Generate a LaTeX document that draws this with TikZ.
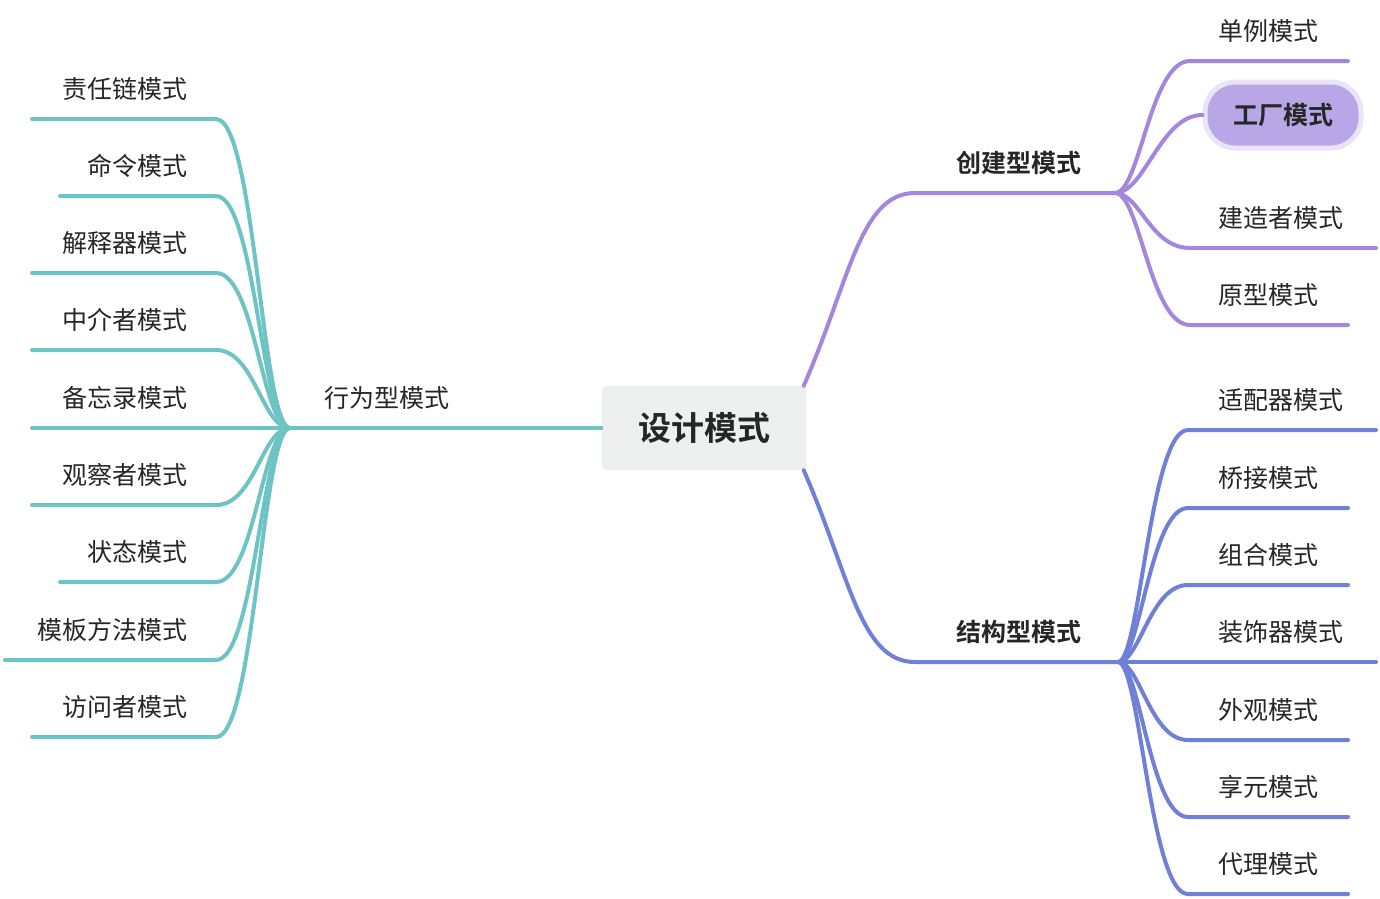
\documentclass[tikz,border=0pt]{standalone}
\usepackage{fontspec}
\newfontfamily\cjk{Noto Sans CJK SC}
\newfontfamily\cjkb{Noto Sans CJK SC Bold}
\begin{document}
\begin{tikzpicture}[x=1pt,y=-1pt,
  lf/.style={font=\cjk\fontsize{25}{25}\selectfont, text=black!85, inner sep=0pt},
  mid/.style={font=\cjkb\fontsize{25}{25}\selectfont, text=black!85, inner sep=0pt},
  br/.style={line width=4pt, line cap=round}]
\definecolor{teal}{HTML}{6EC4C4}
\definecolor{purp}{HTML}{A487DD}
\definecolor{blu}{HTML}{6F80D6}
\useasboundingbox (0,0) rectangle (1380,898);
\node[fill={rgb,255:red,238;green,240;blue,240}, rounded corners=5pt, minimum width=205pt, minimum height=84pt, font=\cjkb\fontsize{33}{33}\selectfont, text=black!85] (root) at (704,428) {设计模式};
% left
\coordinate (lh) at (290,428);
\draw[br,teal] (root.west) -- (lh);
\node[lf] (b) at (387,398) {行为型模式};
\foreach \y/\t/\xs [count=\i] in {119/责任链模式/32, 196/命令模式/60, 273/解释器模式/32, 350/中介者模式/32, 428/备忘录模式/32, 505/观察者模式/32, 582/状态模式/60, 660/模板方法模式/5, 737/访问者模式/32}{
  \coordinate (le\i) at (216,\y);
  \node[lf, anchor=east] (l\i) at (188,\y-30) {\t};
  \draw[br,teal] (lh) .. controls (262,428) and (255,\y) .. (le\i) -- (\xs,\y);
}
% purple
\coordinate (ph) at (1115,193);
\coordinate (pa) at (915,193);
\node[mid] (c) at (1019,163) {创建型模式};
\draw[br,purp] (root.north east) ++(-3,0) coordinate (rs) .. controls (850,280) and (860,193) .. (pa) -- (ph);
\foreach \y/\t/\xe [count=\i] in {61/单例模式/1348, 248/建造者模式/1376, 325/原型模式/1348}{
  \coordinate (pe\i) at (1190,\y);
  \node[lf, anchor=west] (p\i) at (1218,\y-30) {\t};
  \draw[br,purp] (ph) .. controls (1140,193) and (1150,\y) .. (pe\i) -- (\xe,\y);
}
\node[fill={rgb,255:red,184;green,166;blue,230}, draw={rgb,255:red,234;green,228;blue,248}, line width=5pt, rounded corners=30pt, minimum width=156pt, minimum height=66pt, font=\cjkb\fontsize{25}{25}\selectfont, text=black!85] (f) at (1283,115) {工厂模式};
\draw[br,purp] (ph) .. controls (1145,193) and (1160,115) .. (f.west);
% blue
\coordinate (bh) at (1118,662);
\coordinate (ba) at (915,662);
\node[mid] (s) at (1019,632) {结构型模式};
\draw[br,blu] (root.south east) ++(-3,0) .. controls (850,576) and (860,662) .. (ba) -- (bh);
\foreach \y/\t/\xe [count=\i] in {430/适配器模式/1376, 508/桥接模式/1348, 585/组合模式/1348, 662/装饰器模式/1376, 740/外观模式/1348, 817/享元模式/1348, 894/代理模式/1348}{
  \coordinate (se\i) at (1188,\y);
  \node[lf, anchor=west] (s\i) at (1218,\y-30) {\t};
  \draw[br,blu] (bh) .. controls (1140,662) and (1150,\y) .. (se\i) -- (\xe,\y);
}
\end{tikzpicture}
\end{document}
